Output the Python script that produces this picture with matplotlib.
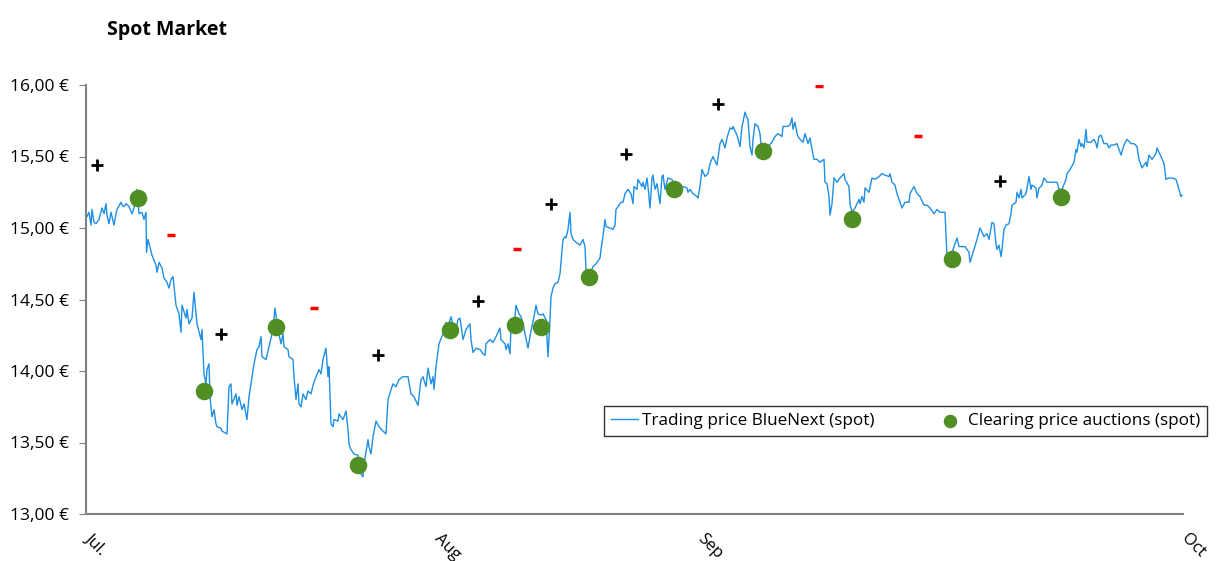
import matplotlib.pyplot as plt
from matplotlib.ticker import FuncFormatter

plt.rcParams['font.family'] = ['Open Sans', 'DejaVu Sans']

# position along the category axis (trading points) and spot price in EUR
pos = [1, 3, 5, 6, 8, 10, 13, 16, 18, 20, 21, 23, 25, 28, 30, 31, 35, 36, 38, 40,
       43, 46, 48, 51, 53, 56, 58, 60, 60.5, 62, 66, 70, 71, 73, 76, 78, 81, 83, 85, 87,
       90, 93, 95, 96, 100, 101, 103, 106, 108, 111, 115, 116, 118, 120, 121, 123, 124, 126, 128, 130,
       131, 135, 136, 141, 143, 145, 146, 150, 151, 153, 156, 158, 161, 163, 166, 168, 171, 173, 175, 176,
       180, 183, 187, 189, 192, 195, 197, 198, 202, 203, 207, 208, 210, 212, 213, 215, 217, 220, 222, 225,
       227, 230, 233, 235, 237, 240, 242, 243, 245, 247, 248, 252, 253, 257, 260, 262, 263, 265, 268, 272,
       275, 277, 278, 282, 283, 285, 287, 290, 293, 297, 300, 302, 305, 307, 310, 313, 317, 322, 325, 328,
       332, 335, 337, 340, 342, 345, 347, 348, 350, 353, 357, 360, 362, 365, 369, 372, 374, 377, 380, 384,
       385, 387, 390, 394, 397, 399, 400, 404, 407, 410, 414, 415, 419, 420, 422, 424, 425, 429, 430, 433,
       435, 437, 439, 442, 445, 448, 450, 452, 455, 457, 460, 462, 464, 465, 467, 469, 472, 474, 477, 479,
       480, 482, 484, 485, 487, 490, 494, 497, 499, 500, 504, 507, 510, 514, 515, 517, 519, 520, 524, 527,
       529, 530, 532, 535, 537, 539, 542, 545, 547, 548, 551, 552, 556, 557, 559, 561, 562, 564, 566, 567,
       569, 571, 574, 576, 577, 579, 582, 586, 589, 594, 597, 601, 602, 604, 607, 611, 612, 614, 616, 619,
       622, 624, 627, 631, 634, 636, 639, 641, 644, 646, 647, 651, 654, 656, 657, 659, 661, 662, 664, 666,
       667, 669, 672, 674, 676, 679, 682, 686, 689, 692, 696, 697, 701, 704, 706, 707, 709, 711, 712, 714,
       717, 719, 722, 724, 726, 728, 731, 734, 738, 739, 741, 743, 744, 746, 748, 751, 754, 758, 759, 763,
       764, 766, 769, 773, 774, 776, 778, 779, 783, 786, 789, 793, 796, 799, 803, 804, 806, 809, 811, 813,
       816, 819, 823, 824, 828, 831, 834, 838, 841, 844, 848, 851, 854, 859, 861, 864, 868, 871, 873, 876,
       879, 883, 884, 888, 889, 891, 894, 898, 901, 903, 906, 908, 910, 911, 913, 915, 916, 918, 920, 923,
       925, 926, 930, 931, 933, 935, 936, 940, 941, 943, 945, 946, 950, 951, 953, 955, 956, 958, 961, 965,
       968, 971, 973, 976, 980, 981, 985, 988, 990, 991, 993, 995, 996, 998, 1000, 1001, 1005, 1008, 1010, 1011,
       1013, 1015, 1016, 1018, 1021, 1023, 1025, 1028, 1031, 1035, 1038, 1041, 1045, 1048, 1051, 1053, 1056, 1060, 1061, 1063,
       1066, 1070, 1071, 1075, 1078, 1080, 1083, 1086, 1090, 1093, 1095, 1096]
price = [15.08, 15.11, 15.02, 15.13, 15.04, 15.03, 15.06, 15.14, 15.10, 15.17, 15.09, 15.03, 15.11, 15.02, 15.10, 15.13, 15.18, 15.16, 15.15, 15.17,
         15.15, 15.10, 15.14, 15.27, 15.10, 15.11, 15.06, 15.11, 14.83, 14.92, 14.81, 14.74, 14.69, 14.76, 14.72, 14.65, 14.62, 14.58, 14.64, 14.66,
         14.46, 14.40, 14.27, 14.46, 14.37, 14.43, 14.33, 14.37, 14.55, 14.33, 14.22, 14.29, 13.98, 13.91, 14.01, 14.05, 13.82, 13.68, 13.73, 13.63,
         13.61, 13.60, 13.58, 13.56, 13.89, 13.91, 13.77, 13.84, 13.76, 13.82, 13.73, 13.77, 13.66, 13.82, 13.96, 14.05, 14.15, 14.17, 14.24, 14.10,
         14.08, 14.17, 14.29, 14.44, 14.29, 14.19, 14.26, 14.17, 14.15, 14.10, 14.08, 13.96, 13.80, 13.91, 13.77, 13.75, 13.84, 13.80, 13.86, 13.84,
         13.90, 13.96, 14.01, 13.98, 14.08, 14.16, 13.96, 14.03, 13.63, 13.61, 13.66, 13.65, 13.70, 13.66, 13.72, 13.59, 13.49, 13.45, 13.42, 13.41,
         13.28, 13.26, 13.35, 13.52, 13.47, 13.42, 13.54, 13.65, 13.61, 13.58, 13.56, 13.80, 13.87, 13.91, 13.89, 13.94, 13.96, 13.96, 13.84, 13.82,
         13.76, 13.94, 13.96, 13.89, 14.02, 13.91, 13.96, 13.87, 14.03, 14.19, 14.26, 14.34, 14.31, 14.38, 14.26, 14.36, 14.37, 14.22, 14.29, 14.33,
         14.22, 14.13, 14.16, 14.15, 14.12, 14.11, 14.19, 14.22, 14.20, 14.24, 14.30, 14.22, 14.19, 14.15, 14.19, 14.12, 14.31, 14.38, 14.46, 14.40,
         14.38, 14.33, 14.26, 14.16, 14.28, 14.38, 14.46, 14.40, 14.39, 14.40, 14.36, 14.10, 14.36, 14.52, 14.58, 14.61, 14.62, 14.68, 14.92, 14.94,
         14.93, 14.99, 15.11, 14.96, 14.92, 14.90, 14.88, 14.92, 14.87, 14.71, 14.68, 14.73, 14.75, 14.79, 14.85, 14.94, 15.06, 15.01, 15.00, 14.99,
         15.02, 15.13, 15.15, 15.18, 15.18, 15.24, 15.27, 15.24, 15.17, 15.29, 15.27, 15.34, 15.29, 15.32, 15.27, 15.35, 15.29, 15.14, 15.35, 15.37,
         15.27, 15.31, 15.17, 15.36, 15.37, 15.27, 15.35, 15.34, 15.27, 15.28, 15.29, 15.28, 15.25, 15.27, 15.24, 15.22, 15.21, 15.29, 15.41, 15.36,
         15.38, 15.45, 15.50, 15.44, 15.59, 15.62, 15.56, 15.63, 15.70, 15.69, 15.71, 15.65, 15.57, 15.71, 15.74, 15.81, 15.77, 15.76, 15.57, 15.51,
         15.62, 15.73, 15.71, 15.66, 15.50, 15.52, 15.57, 15.60, 15.64, 15.66, 15.64, 15.71, 15.71, 15.72, 15.77, 15.69, 15.74, 15.66, 15.64, 15.62,
         15.60, 15.66, 15.59, 15.63, 15.55, 15.48, 15.48, 15.46, 15.48, 15.32, 15.31, 15.22, 15.09, 15.17, 15.35, 15.32, 15.35, 15.38, 15.34, 15.29,
         15.17, 15.11, 15.14, 15.20, 15.17, 15.22, 15.18, 15.28, 15.25, 15.35, 15.34, 15.36, 15.38, 15.37, 15.36, 15.38, 15.32, 15.30, 15.24, 15.20,
         15.14, 15.18, 15.18, 15.24, 15.29, 15.24, 15.22, 15.16, 15.16, 15.14, 15.10, 15.13, 15.11, 15.11, 14.80, 14.78, 14.87, 14.93, 14.87, 14.87,
         14.87, 14.83, 14.76, 14.85, 14.87, 14.92, 15.00, 14.94, 14.96, 14.92, 15.04, 15.03, 14.89, 14.85, 14.88, 14.80, 14.85, 14.99, 15.02, 15.03,
         15.10, 15.16, 15.18, 15.25, 15.21, 15.27, 15.21, 15.24, 15.28, 15.36, 15.27, 15.30, 15.28, 15.21, 15.28, 15.29, 15.30, 15.35, 15.32, 15.32,
         15.32, 15.32, 15.27, 15.27, 15.34, 15.38, 15.42, 15.46, 15.55, 15.53, 15.62, 15.57, 15.59, 15.56, 15.69, 15.60, 15.60, 15.62, 15.59, 15.56,
         15.64, 15.65, 15.63, 15.59, 15.59, 15.56, 15.58, 15.58, 15.59, 15.51, 15.58, 15.62, 15.59, 15.59, 15.57, 15.48, 15.42, 15.46, 15.43, 15.51,
         15.48, 15.52, 15.56, 15.50, 15.45, 15.34, 15.35, 15.35, 15.34, 15.27, 15.22, 15.23]

# auction clearing prices
auction_pos = [52, 118, 190, 272, 364, 429, 455, 503, 588, 677, 766, 866, 975]
auction_price = [15.21, 13.86, 14.31, 13.34, 14.29, 14.32, 14.31, 14.66, 15.27, 15.54, 15.06, 14.78, 15.22]

# +/- marks
sign_pos = [11, 85, 135, 228, 292, 392, 431, 465, 540, 632, 733, 832, 914]
sign_price = [15.44, 14.95, 14.26, 14.44, 14.11, 14.49, 14.85, 15.17, 15.52, 15.87, 15.99, 15.64, 15.33]
signs = ['+', '-', '+', '-', '+', '+', '-', '+', '+', '+', '-', '-', '+']

month_pos = [0, 349, 612, 1097]
month_labels = ['Jul.', 'Aug', 'Sep', 'Oct']

fig = plt.figure(figsize=(12.16, 5.61), dpi=100)
ax = fig.add_axes([86 / 1216, 1 - 514 / 561, 1097 / 1216, 429 / 561])

line, = ax.plot(pos, price, color='#1f8fe5', linewidth=1.0,
                label='Trading price BlueNext (spot)')
dots = ax.scatter(auction_pos, auction_price, s=135, color='#4f8f23', zorder=3,
                  label='Clearing price auctions (spot)')

for x, y, s in zip(sign_pos, sign_price, signs):
    if s == '+':
        ax.plot(x, y, marker='+', color='black', markersize=9, mew=2)
    else:
        ax.plot(x, y, marker='_', color='red', markersize=6, mew=2.5)

ax.set_xlim(0, 1097)
ax.set_ylim(13, 16)
ax.set_yticks([13, 13.5, 14, 14.5, 15, 15.5, 16])
ax.yaxis.set_major_formatter(FuncFormatter(lambda v, p: f'{v:.2f} €'.replace('.', ',')))
ax.tick_params(axis='y', length=5, color='#808080', labelsize=12.5, pad=7)

# month labels, rotated, hung below the axis
ax.set_xticks([])
for p, lab in zip(month_pos, month_labels):
    ax.annotate(lab, xy=(p, 0), xycoords=('data', 'axes fraction'),
                xytext=(5, -12), textcoords='offset points',
                rotation=-45, ha='left', va='top', rotation_mode='anchor',
                fontsize=12, annotation_clip=False)

for side in ['top', 'right']:
    ax.spines[side].set_visible(False)
for side in ['left', 'bottom']:
    ax.spines[side].set_color('#808080')
    ax.spines[side].set_linewidth(1.5)

fig.text(107 / 1216, 1 - 30 / 561, 'Spot Market', fontsize=14, fontweight='bold',
         va='center', ha='left')

leg = ax.legend(handles=[line, dots], loc='center right', ncol=2,
                bbox_to_anchor=(1207 / 1216, 1 - 421 / 561), bbox_transform=fig.transFigure,
                fontsize=12.3, frameon=True, fancybox=False, edgecolor='black',
                handlelength=1.6, columnspacing=3.6, handletextpad=0.25, borderpad=0.4,
                markerscale=0.75, borderaxespad=0)
leg.get_frame().set_linewidth(1.0)

plt.savefig('out.png', dpi=100)
